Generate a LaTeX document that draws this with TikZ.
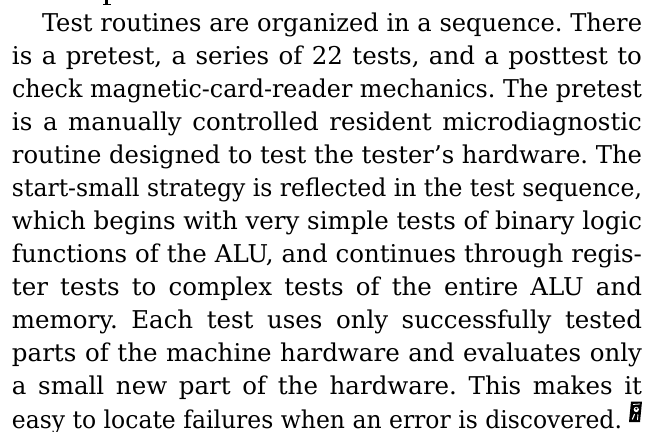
\documentclass[tikz,border=0pt]{standalone}
\usepackage{fontspec}
\usepackage{graphicx}
\setmainfont{DejaVu Serif}
\frenchspacing
% Set one justified line of the column: stretch the spaces if the line is
% short, squeeze it horizontally if it is too long.
\newcommand\colline[2]{%
  \sbox0{#2}%
  \ifdim\wd0>#1\relax\resizebox{#1}{\height}{#2}%
  \else\makebox[#1][s]{#2}\fi}
\tikzset{
  textline/.style={anchor=base west, inner sep=0pt, outer sep=0pt,
    font=\fontsize{24.5}{33}\selectfont, text=black}
}
\begin{document}
\begin{tikzpicture}[x=1pt,y=1pt]
  \fill[white] (0,0) rectangle (653,431);
  \useasboundingbox (0,0) rectangle (653,431);
  \clip (0,0) rectangle (653,431);
  % descender of the line above, cut by the page edge
  \fill[black] (105,431) rectangle (108,426.5);
  \fill[black] (102.5,427.3) rectangle (111,425.6);
  % the paragraph, one node per printed line (baselines 33pt apart)
  \node[textline] (l1)  at (42,399) {\colline{600pt}{Test routines are organized in a sequence. There}};
  \node[textline] (l2)  at (12,366) {\colline{630pt}{is a pretest, a series of 22 tests, and a posttest to}};
  \node[textline] (l3)  at (12,333) {\colline{630pt}{check magnetic-card-reader mechanics. The pretest}};
  \node[textline] (l4)  at (12,300) {\colline{630pt}{is a manually controlled resident microdiagnostic}};
  \node[textline] (l5)  at (12,267) {\colline{630pt}{routine designed to test the tester’s hardware. The}};
  \node[textline] (l6)  at (12,234) {\colline{630pt}{start-small strategy is reflected in the test sequence,}};
  \node[textline] (l7)  at (12,201) {\colline{630pt}{which begins with very simple tests of binary logic}};
  \node[textline] (l8)  at (12,168) {\colline{630pt}{functions of the ALU, and continues through regis-}};
  \node[textline] (l9)  at (12,135) {\colline{630pt}{ter tests to complex tests of the entire ALU and}};
  \node[textline] (l10) at (12,102) {\colline{630pt}{memory. Each test uses only successfully tested}};
  \node[textline] (l11) at (12,69)  {\colline{630pt}{parts of the machine hardware and evaluates only}};
  \node[textline] (l12) at (12,36)  {\colline{630pt}{a small new part of the hardware. This makes it}};
  \node[textline] (l13) at (12,3)   {\colline{610pt}{easy to locate failures when an error is discovered.}};
  % end-of-article mark
  \fill[black] (629,9) -- (640,9) -- (642,29.5) -- (631,29.5) -- cycle;
  \fill[white] (636.3,21.5) circle (2.6);
  \fill[black] (636.3,22.3) circle (1.2);
  \draw[white, line width=1.1pt] (632.3,11.5) -- (634.6,17);
  \draw[white, line width=0.9pt] (637.5,11) -- (637.9,16.5);
  \draw[white, line width=0.8pt] (633,26.5) -- (640,27);
\end{tikzpicture}
\end{document}
